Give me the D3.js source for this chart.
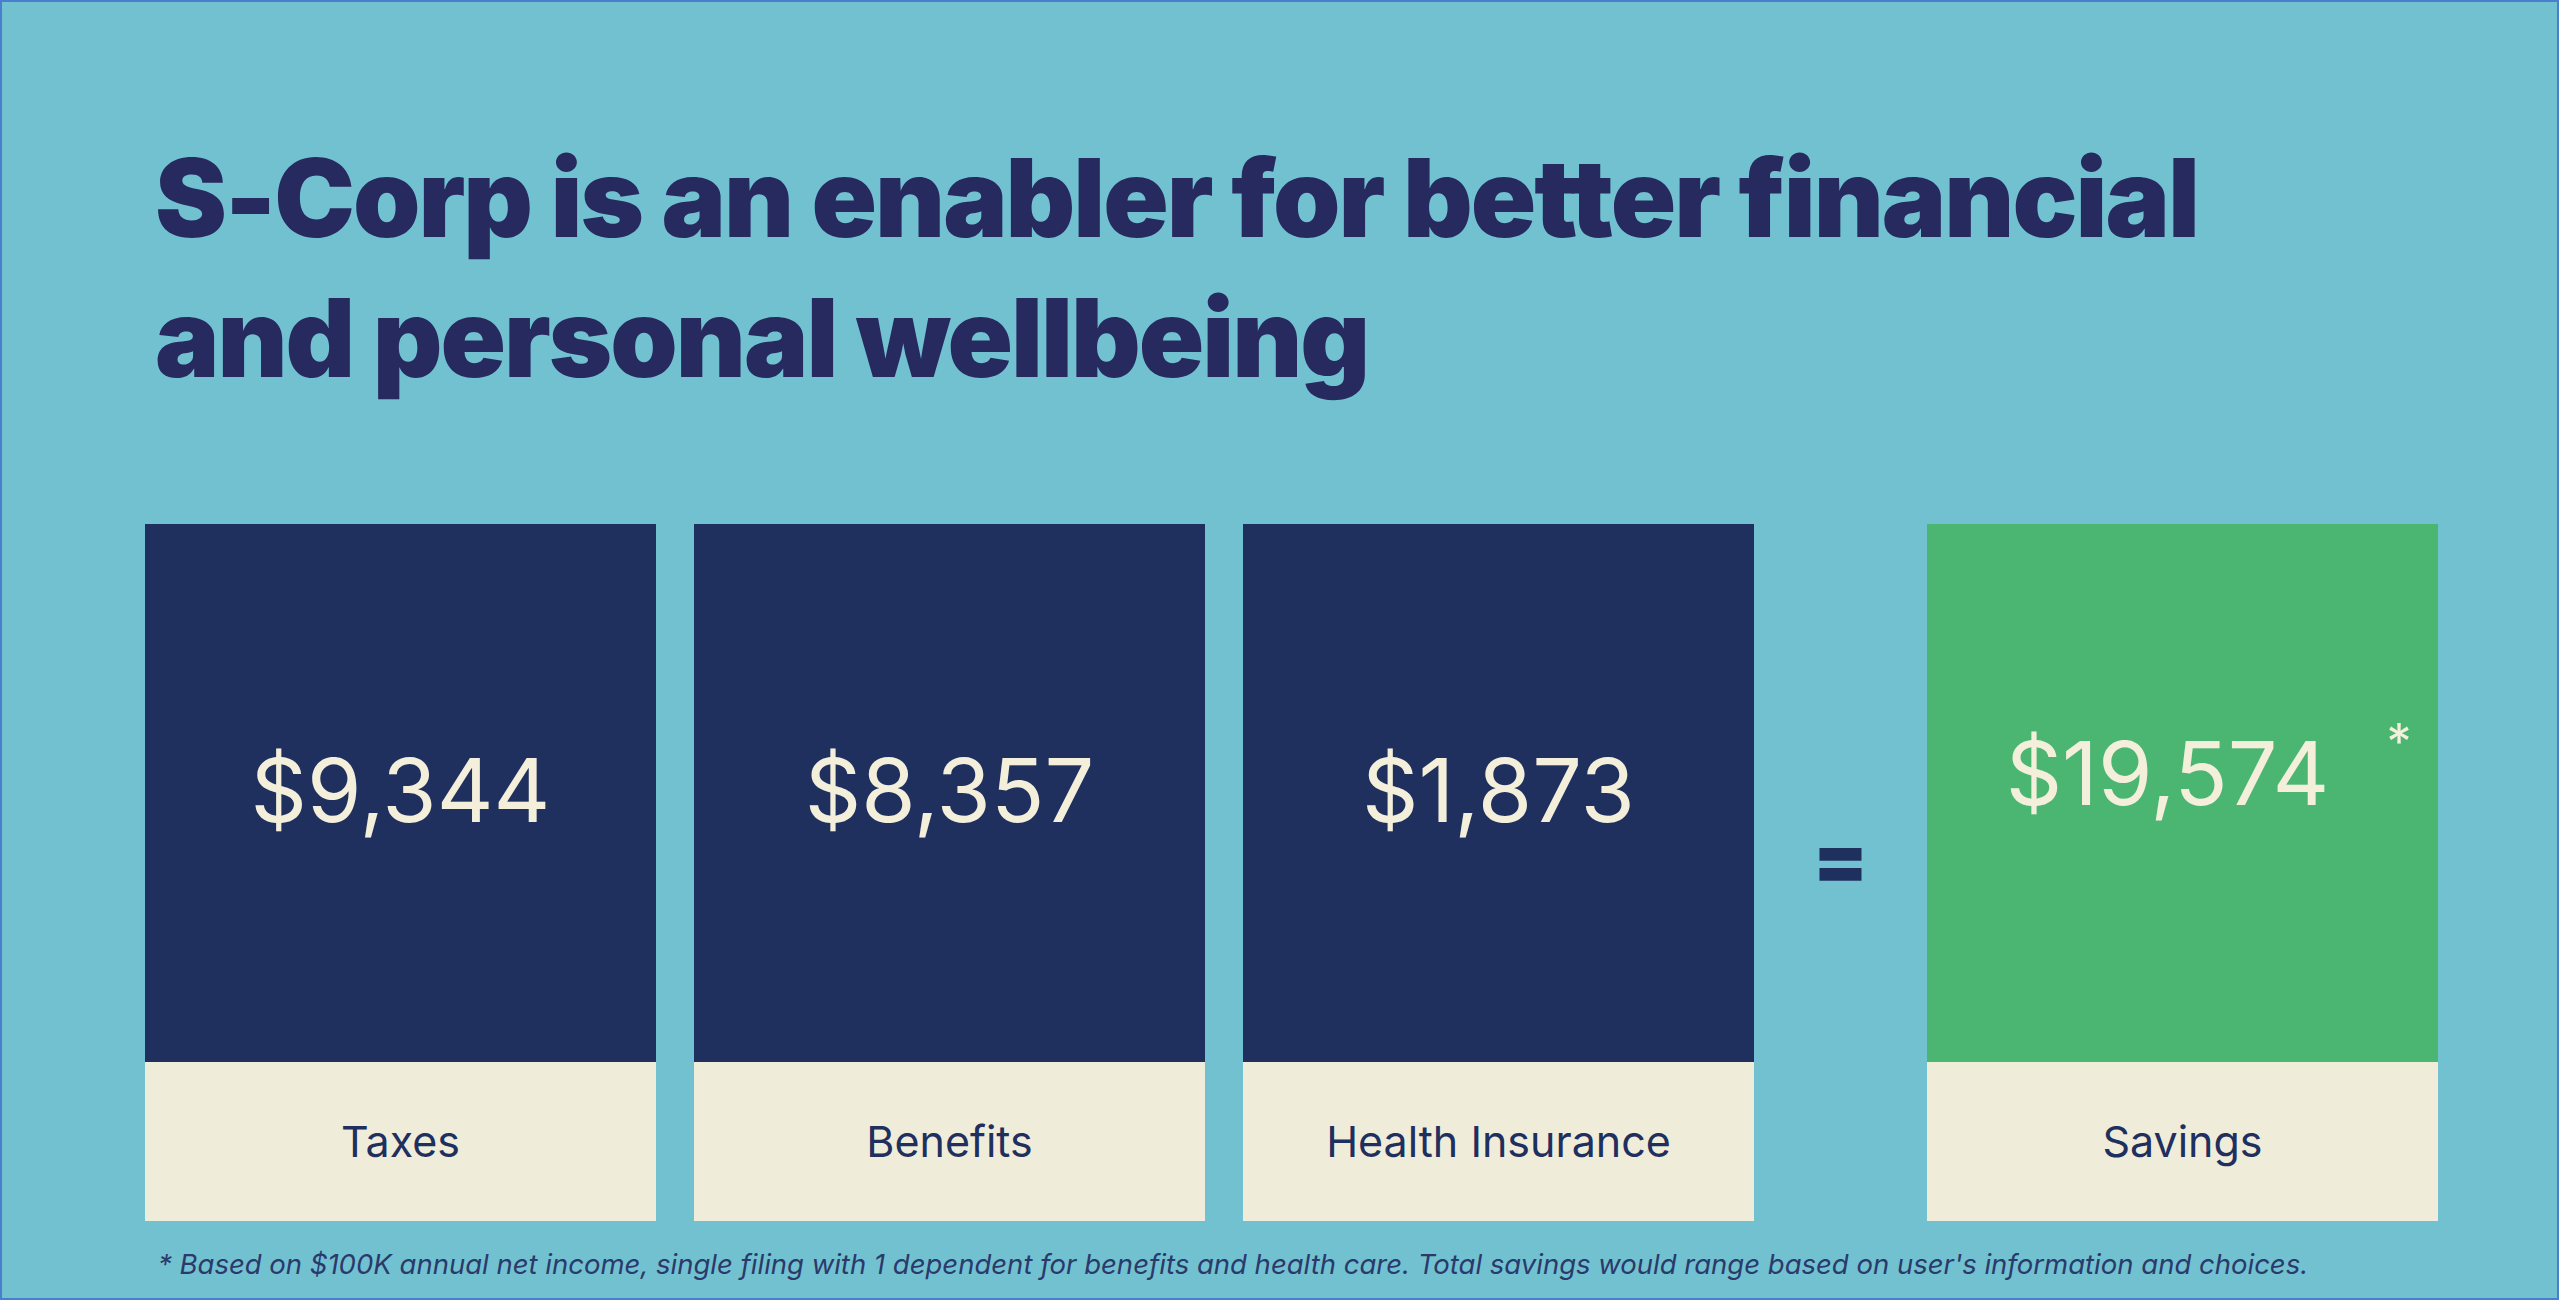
<!DOCTYPE html>
<html><head><meta charset="utf-8">
<script src="https://cdn.jsdelivr.net/npm/d3@7"></script>
<style>html,body{margin:0;padding:0;background:#72c1d1;overflow:hidden}</style>
</head><body>
<script>
const categories = ["Taxes", "Benefits", "Health Insurance", "Savings"];
const values = [9344, 8357, 1873, 19574];
const titleLines = ["S-Corp is an enabler for better financial", "and personal wellbeing"];
const footnote = "* Based on $100K annual net income, single filing with 1 dependent for benefits and health care. Total savings would range based on user's information and choices.";

const W = 2559, H = 1300;
const svg = d3.select("body").append("svg").attr("width", W).attr("height", H);
svg.append("rect").attr("x",1).attr("y",1).attr("width",W-2).attr("height",H-2)
  .attr("fill","#72c1d1").attr("stroke","#4a7fd0").attr("stroke-width",2);

svg.selectAll("text.title").data(titleLines).join("text")
  .attr("x",155).attr("y",(d,i)=>237+i*140)
  .attr("font-family","Inter, 'DejaVu Sans', sans-serif").attr("font-weight",900)
  .attr("font-size",108).attr("letter-spacing","-2").attr("fill","#262a5e").text(d=>d);

// slots: three boxes, an "=" slot, then Savings
const slots = ["Taxes","Benefits","Health Insurance","=","Savings"];
const x = d3.scaleBand().domain(slots).range([145, 2438]).paddingInner(0.075);
// shift so that first three keep close spacing and Savings at far right
const pos = c => c === "Savings" ? 2438 - boxW : 145 + slots.indexOf(c) * (boxW + 38);
const boxW = 511;
const yTop = 524, yMid = 1062, yBot = 1221;
const fmt = d3.format("$,");

const g = svg.selectAll("g.box").data(categories.map((c,i)=>({c,v:values[i]}))).join("g");
g.append("rect").attr("x",d=>pos(d.c)).attr("y",yTop).attr("width",boxW).attr("height",yMid-yTop)
  .attr("fill",d=>d.c==="Savings"?"#4ab672":"#1f2f5e");
g.append("rect").attr("x",d=>pos(d.c)).attr("y",yMid).attr("width",boxW).attr("height",yBot-yMid)
  .attr("fill","#efedda");
g.append("text").attr("x",d=>pos(d.c)+boxW/2 + (d.c==="Savings"?-15:0))
  .attr("y",d=>d.c==="Savings"?805:822).attr("text-anchor","middle")
  .attr("font-family","Inter, sans-serif").attr("font-size",88).attr("font-weight",400)
  .attr("fill","#f3efdb").text(d=>fmt(d.v));
g.filter(d=>d.c==="Savings").append("text").attr("x",d=>pos(d.c)+boxW/2+204).attr("y",760)
  .attr("font-family","Inter, sans-serif").attr("font-size",50).attr("fill","#f3efdb").text("*");
g.append("text").attr("x",d=>pos(d.c)+boxW/2).attr("y",1157).attr("text-anchor","middle")
  .attr("font-family","Inter, sans-serif").attr("font-size",43).attr("fill","#1f2f5e").text(d=>d.c);

const eqX = (pos("Health Insurance")+boxW + pos("Savings"))/2;
svg.append("text").attr("x",eqX).attr("y",888).attr("text-anchor","middle")
  .attr("font-family","Inter, sans-serif").attr("font-weight",900).attr("font-size",80)
  .attr("fill","#1f2f5e").text("=");

svg.append("text").attr("x",158).attr("y",1274)
  .attr("font-family","Inter, sans-serif").attr("font-style","italic").attr("font-size",27.5)
  .attr("fill","#2a3a6a").text(footnote);
</script>
</body></html>
